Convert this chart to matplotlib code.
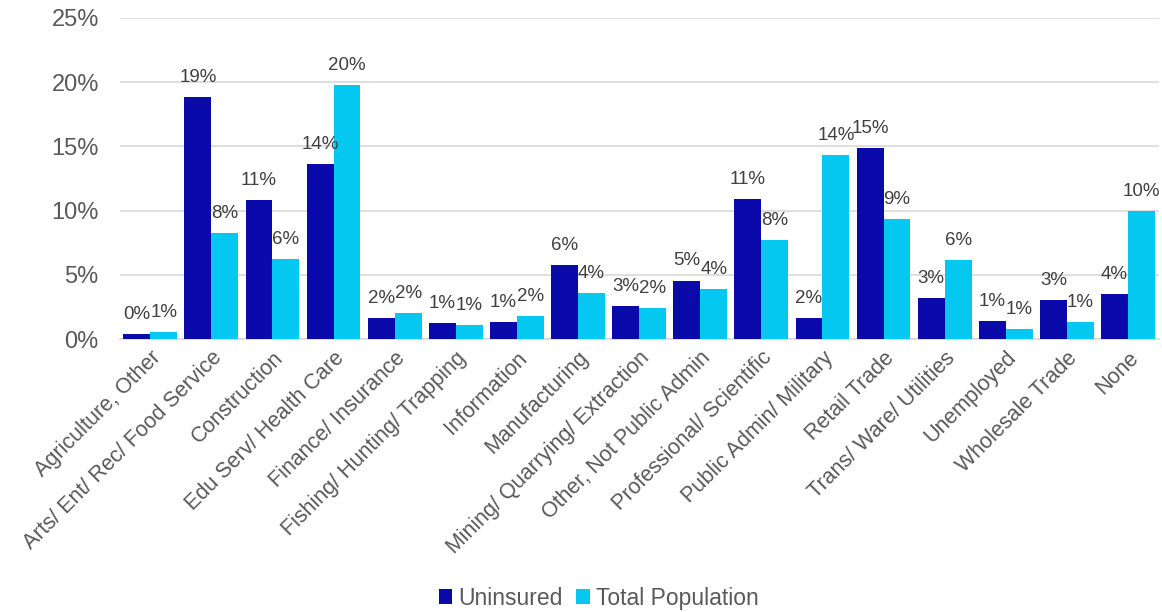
import matplotlib
matplotlib.use("Agg")
import matplotlib.pyplot as plt
import numpy as np
from matplotlib.ticker import FuncFormatter, MultipleLocator

plt.rcParams['font.family'] = ['Liberation Sans', 'DejaVu Sans']

categories = ["Agriculture, Other", "Arts/ Ent/ Rec/ Food Service", "Construction",
              "Edu Serv/ Health Care", "Finance/ Insurance", "Fishing/ Hunting/ Trapping",
              "Information", "Manufacturing", "Mining/ Quarrying/ Extraction",
              "Other, Not Public Admin", "Professional/ Scientific", "Public Admin/ Military",
              "Retail Trade", "Trans/ Ware/ Utilities", "Unemployed", "Wholesale Trade", "None"]
uninsured = [0.39, 18.85, 10.79, 13.62, 1.61, 1.25, 1.30, 5.77, 2.54, 4.55, 10.92, 1.64,
             14.84, 3.17, 1.37, 3.04, 3.52]
total_pop = [0.52, 8.24, 6.24, 19.78, 2.05, 1.09, 1.82, 3.56, 2.42, 3.87, 7.72, 14.35,
             9.31, 6.16, 0.75, 1.35, 9.98]
series_names = ["Uninsured", "Total Population"]

c_unins = "#0A0AAB"
c_total = "#05C8F0"
txt = "#404040"
grid = "#D9D9D9"

fig = plt.figure(figsize=(11.62, 6.12), dpi=100)
ax = fig.add_axes([0.103, 0.446, 0.894, 0.525])

x = np.arange(len(categories))
w = 0.44
b1 = ax.bar(x - w / 2, uninsured, w, color=c_unins, label=series_names[0], zorder=3)
b2 = ax.bar(x + w / 2, total_pop, w, color=c_total, label=series_names[1], zorder=3)

for bars, vals in ((b1, uninsured), (b2, total_pop)):
    for r, v in zip(bars, vals):
        ax.annotate(f"{int(v + 0.5)}%", (r.get_x() + r.get_width() / 2, v),
                    xytext=(0, 8), textcoords="offset points",
                    ha="center", va="bottom", fontsize=13.5, color=txt)

ax.set_ylim(0, 25)
ax.set_xlim(-0.5, len(categories) - 0.5)
ax.yaxis.set_major_locator(MultipleLocator(5))
ax.yaxis.set_major_formatter(FuncFormatter(lambda v, p: f"{v:.0f}%"))
ax.grid(axis="y", color=grid, linewidth=1.2, zorder=0)
for s in ("top", "right", "left"):
    ax.spines[s].set_visible(False)
ax.spines["bottom"].set_color(grid)
ax.spines["bottom"].set_linewidth(1.2)
ax.tick_params(axis="y", length=0, labelsize=17, labelcolor="#595959", pad=15)
ax.tick_params(axis="x", length=0, labelsize=15.5, labelcolor="#595959", pad=6)
ax.set_xticks(x)
ax.set_xticklabels(categories, rotation=45, ha="right", va="top", rotation_mode="anchor")

fig.legend(handles=[b1, b2], labels=series_names, loc="lower center",
           bbox_to_anchor=(0.515, -0.03), ncol=2, frameon=False, fontsize=16.5,
           handlelength=0.6, handleheight=0.6, handletextpad=0.25, columnspacing=0.6,
           labelcolor="#595959")

fig.savefig("out.png", dpi=100)
